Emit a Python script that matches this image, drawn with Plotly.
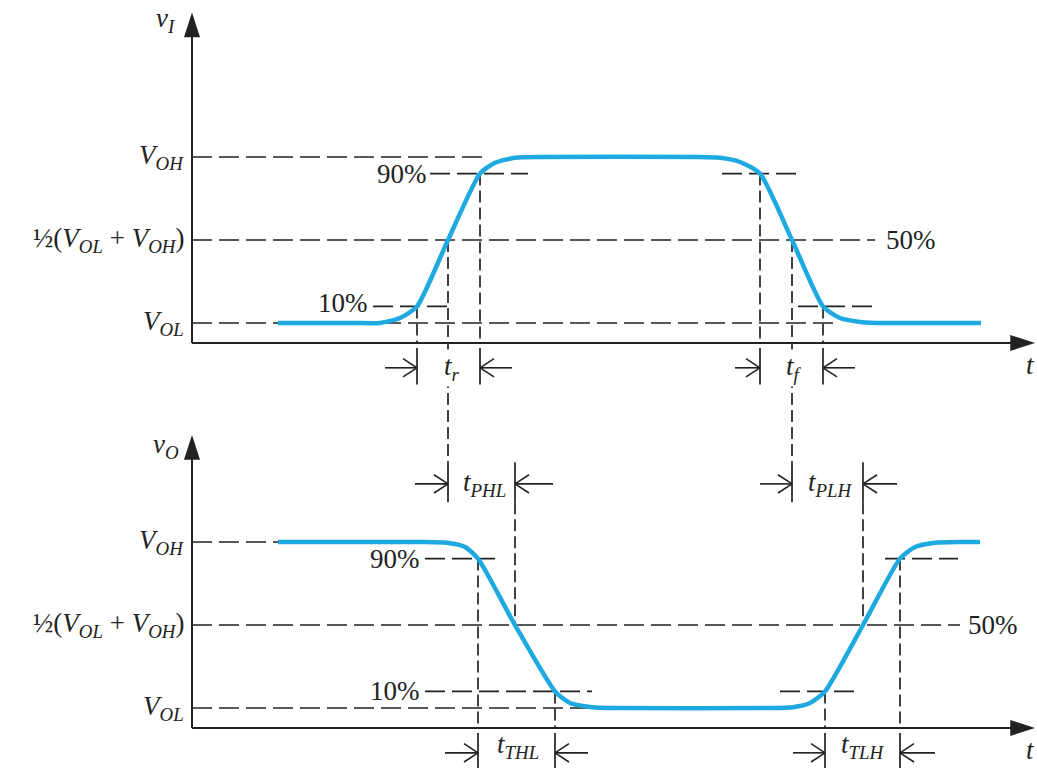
import plotly.graph_objects as go

# ---------------- data (time in arbitrary units, voltage normalised: V_OL=0, V_OH=1) ----------
V_OL, V_10, V_50, V_90, V_OH = 0.0, 0.1, 0.5, 0.9, 1.0

# input waveform v_I
vi_t = [8.6, 16.0, 18.8, 20.8, 22.5, 25.6, 28.8, 30.3, 32.3, 35.0, 50.5, 52.8, 54.8, 56.8, 60.0, 63.1, 64.8, 67.0, 69.5, 78.9]
vi_v = [0.0, 0.0, 0.0, 0.03, 0.1, 0.5, 0.9, 0.965, 0.995, 1.0, 1.0, 0.995, 0.97, 0.9, 0.5, 0.1, 0.03, 0.005, 0.0, 0.0]

# output waveform v_O
vo_t = [8.6, 23.0, 25.5, 27.3, 28.6, 32.3, 36.3, 37.8, 40.0, 42.5, 57.6, 60.1, 61.8, 63.3, 67.1, 70.8, 72.3, 74.3, 76.5, 78.8]
vo_v = [1.0, 1.0, 0.995, 0.97, 0.9, 0.5, 0.1, 0.03, 0.005, 0.0, 0.0, 0.005, 0.03, 0.1, 0.5, 0.9, 0.97, 0.995, 1.0, 1.0]

# crossing instants
t_in_10r, t_in_50r, t_in_90r = 22.5, 25.6, 28.8
t_in_90f, t_in_50f, t_in_10f = 56.8, 60.0, 63.1
t_out_90f, t_out_50f, t_out_10f = 28.6, 32.3, 36.3
t_out_10r, t_out_50r, t_out_90r = 63.3, 67.1, 70.8

# horizontal reference lines: (level, start, end)
top_guides = [(V_OH, 0, 29.6), (V_90, 23.8, 33.6), (V_90, 53.0, 60.5), (V_50, 0, 68.3),
              (V_10, 18.1, 25.6), (V_10, 60.6, 68.1), (V_OL, 0, 64.5)]
bot_guides = [(V_OH, 0, 25.0), (V_90, 23.3, 30.3), (V_90, 69.3, 76.6), (V_50, 0, 76.8),
              (V_10, 23.3, 40.0), (V_10, 58.8, 66.8), (V_OL, 0, 40.0)]

level_labels = ["<i>V</i><sub><i>OH</i></sub>",
                "½(<i>V</i><sub><i>OL</i></sub> + <i>V</i><sub><i>OH</i></sub>)",
                "<i>V</i><sub><i>OL</i></sub>"]
level_values = [V_OH, V_50, V_OL]

# ---------------- layout constants ----------------
X_RANGE = [-19.2, 84.5]
Y1_RANGE = [-2.6807, 1.9458]   # top panel (v_I)
Y2_RANGE = [-0.3614, 4.2651]   # bottom panel (v_O)
OFFSET = Y2_RANGE[1] - Y1_RANGE[1]   # convert bottom-panel value to top-panel value

AXIS_V = -0.12
DIM_ROW = -0.27
TICK_LOW = -0.37
TICK_HIGH = -0.15
PROP_ROW = 1.35
PROP_TICK_TOP = 1.48
PROP_TICK_BOT = 1.24
X_END = 84.3
YI_END = 1.87
YO_END = 1.645
BARB_DT = 1.4
BARB_DV = 0.055

BLUE = "#1ea9e1"
INK = "#222222"
FONT = "Liberation Serif"

fig = go.Figure()


def seg_xy(segs):
    xs, ys = [], []
    for (x0, y0, x1, y1) in segs:
        xs += [x0, x1, None]
        ys += [y0, y1, None]
    return xs, ys


def add_lines(segs, yaxis, dash, width=1.7):
    xs, ys = seg_xy(segs)
    fig.add_trace(go.Scatter(x=xs, y=ys, mode="lines", yaxis=yaxis, hoverinfo="skip",
                             line=dict(color=INK, width=width, dash=dash)))


H_DASH = "20px,7px"
V_DASH = "12px,5px"

# horizontal guides
add_lines([(a, l, b, l) for (l, a, b) in top_guides], "y", H_DASH)
add_lines([(a, l, b, l) for (l, a, b) in bot_guides], "y2", H_DASH)

# vertical guides (top panel)
top_v = [(t, l, t, AXIS_V) for t, l in [(t_in_10r, V_10), (t_in_90r, V_90), (t_in_90f, V_90), (t_in_10f, V_10)]]
top_v += [(t, V_50, t, PROP_TICK_TOP - OFFSET) for t in (t_in_50r, t_in_50f)]
add_lines(top_v, "y", V_DASH)
add_lines([(t, TICK_HIGH, t, TICK_LOW) for t in (t_in_10r, t_in_90r, t_in_90f, t_in_10f)], "y", None)
add_lines([(t, PROP_TICK_TOP, t, PROP_TICK_BOT) for t in (t_in_50r, t_in_50f)], "y2", None)

# vertical guides (bottom panel)
bot_v = [(t, l, t, AXIS_V) for t, l in [(t_out_90f, V_90), (t_out_10f, V_10), (t_out_10r, V_10), (t_out_90r, V_90)]]
bot_v += [(t, PROP_TICK_BOT, t, V_50) for t in (t_out_50f, t_out_50r)]
add_lines(bot_v, "y2", V_DASH)
add_lines([(t, TICK_HIGH, t, TICK_LOW - 0.05) for t in (t_out_90f, t_out_10f, t_out_10r, t_out_90r)], "y2", None)
add_lines([(t, PROP_TICK_TOP, t, PROP_TICK_BOT) for t in (t_out_50f, t_out_50r)], "y2", None)

# axes with arrowheads
for yax, ytop in (("y", YI_END), ("y2", YO_END)):
    for xs, ys in (([0, 0], [AXIS_V, ytop]), ([0, X_END], [AXIS_V, AXIS_V])):
        fig.add_trace(go.Scatter(x=xs, y=ys, mode="lines+markers", yaxis=yax, hoverinfo="skip",
                                 line=dict(color=INK, width=2),
                                 marker=dict(symbol="arrow", size=[0, 26], angleref="previous",
                                             color=INK, opacity=1, line=dict(width=0))))

# waveforms
fig.add_trace(go.Scatter(x=vi_t, y=vi_v, mode="lines", yaxis="y", hoverinfo="skip",
                         line=dict(color=BLUE, width=4.5, shape="spline", smoothing=0.6)))
fig.add_trace(go.Scatter(x=vo_t, y=vo_v, mode="lines", yaxis="y2", hoverinfo="skip",
                         line=dict(color=BLUE, width=4.5, shape="spline", smoothing=0.6)))

ann = []


def label(text, x, y, yref, xanchor="center", size=27, bg=None):
    d = dict(text=text, x=x, y=y, xref="x", yref=yref, showarrow=False, xanchor=xanchor,
             yanchor="middle", font=dict(family=FONT, size=size, color=INK))
    if bg:
        d["bgcolor"] = bg
    ann.append(d)


for yref in ("y", "y2"):
    for txt, v in zip(level_labels, level_values):
        label(txt, -0.6, v, yref, xanchor="right")

label("<i>v</i><sub><i>I</i></sub>", -2.6, 1.825, "y")
label("<i>v</i><sub><i>O</i></sub>", -2.6, 1.578, "y2")

label("90%", 23.7, V_90, "y", xanchor="right")
label("10%", 17.8, V_10 + 0.02, "y", xanchor="right")
label("50%", 69.2, V_50, "y", xanchor="left")
label("90%", 23.0, V_90, "y2", xanchor="right")
label("10%", 23.0, V_10, "y2", xanchor="right")
label("50%", 77.4, V_50, "y2", xanchor="left")

label("<i>t</i>", X_RANGE[1], DIM_ROW + 0.02, "y", xanchor="right")
label("<i>t</i>", X_RANGE[1], DIM_ROW + 0.02, "y2", xanchor="right")

# dimension arrows: (label, head_left, head_right, tail_left, tail_right, label_x, row, yaxis)
dims = [
    ("<i>t</i><sub><i>r</i></sub>", t_in_10r, t_in_90r, 19.3, 32.0, 26.0, DIM_ROW, "y"),
    ("<i>t</i><sub><i>f</i></sub>", t_in_90f, t_in_10f, 54.3, 66.3, 60.2, DIM_ROW, "y"),
    ("<i>t</i><sub><i>PHL</i></sub>", t_in_50r, t_out_50f, 22.3, 36.1, 29.2, PROP_ROW, "y2"),
    ("<i>t</i><sub><i>PLH</i></sub>", t_in_50f, t_out_50r, 56.8, 70.5, 63.8, PROP_ROW, "y2"),
    ("<i>t</i><sub><i>THL</i></sub>", t_out_90f, t_out_10f, 25.3, 39.6, 32.6, DIM_ROW, "y2"),
    ("<i>t</i><sub><i>TLH</i></sub>", t_out_10r, t_out_90r, 60.1, 74.3, 67.1, DIM_ROW, "y2"),
]
for yax in ("y", "y2"):
    segs = []
    for txt, hl, hr, tl, tr, lx, row, yref in dims:
        if yref != yax:
            continue
        for h, tt in ((hl, tl), (hr, tr)):
            d = 1 if h > tt else -1
            segs.append((tt, row, h, row))
            segs.append((h - d * BARB_DT, row + BARB_DV, h, row))
            segs.append((h - d * BARB_DT, row - BARB_DV, h, row))
    add_lines(segs, yax, None, width=1.6)

for txt, hl, hr, tl, tr, lx, row, yref in dims:
    if yref == "y":
        # a guide line passes through these labels; mask it behind the text
        label(txt, lx, row, yref, bg="white")
    elif row == DIM_ROW:
        label(txt, lx, row + 0.04, yref)
    else:
        label(txt, lx, row, yref)

fig.update_layout(
    width=1037, height=768,
    margin=dict(l=0, r=0, t=0, b=0),
    paper_bgcolor="white", plot_bgcolor="white",
    showlegend=False,
    xaxis=dict(range=X_RANGE, visible=False, fixedrange=True),
    yaxis=dict(range=Y1_RANGE, visible=False, domain=[0, 1], fixedrange=True),
    yaxis2=dict(range=Y2_RANGE, visible=False, overlaying="y", fixedrange=True),
    annotations=ann,
)

fig.write_html("out.html", post_script="document.body.style.margin='0';", config={"displayModeBar": False})
